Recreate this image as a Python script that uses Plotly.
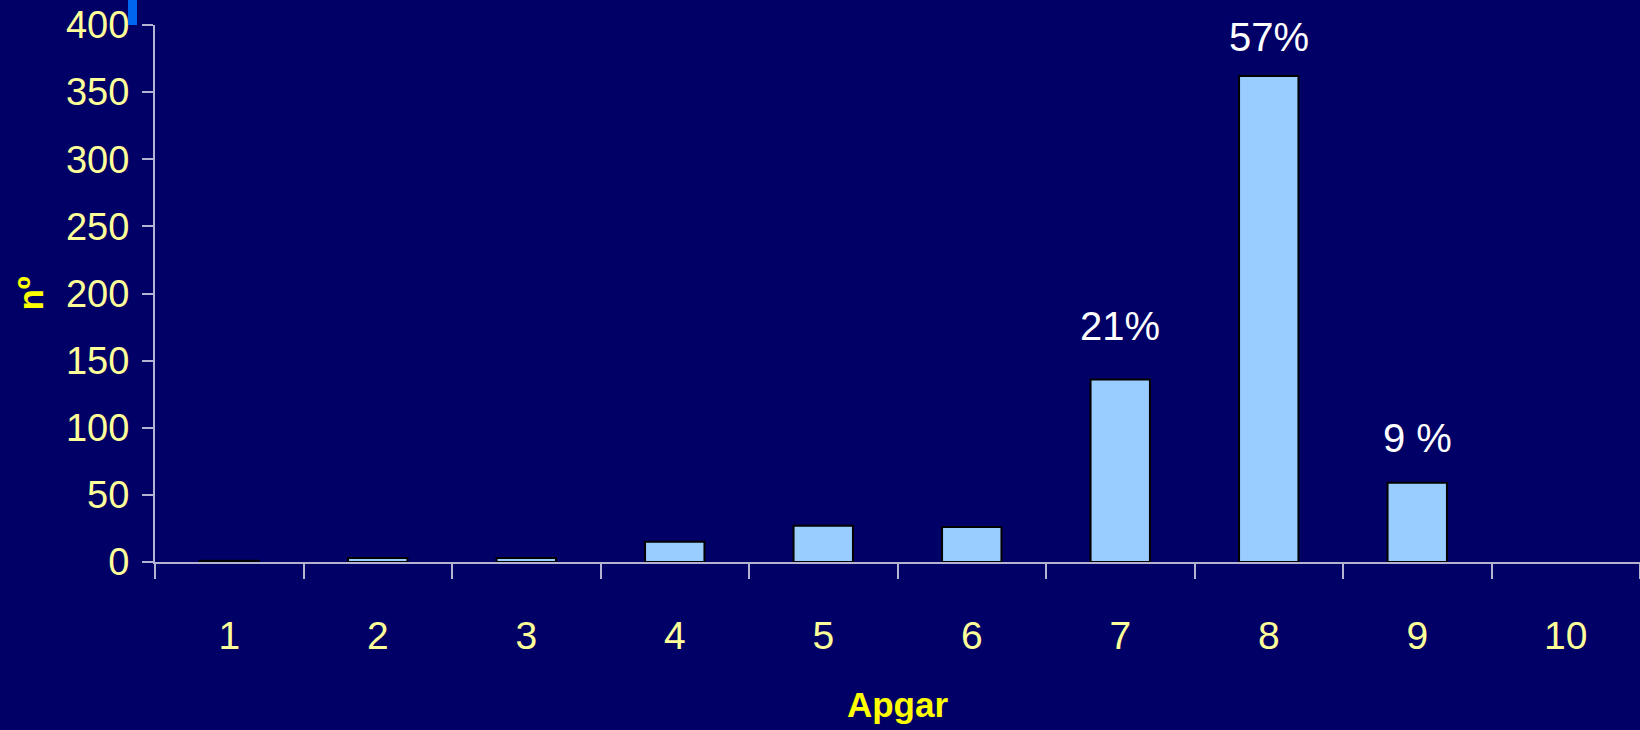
import plotly.graph_objects as go

# Apgar score distribution
categories = ["1", "2", "3", "4", "5", "6", "7", "8", "9", "10"]
counts = [1, 3, 3, 15, 27, 26, 136, 362, 59, 0]

# Percentage callouts above the main bars
pct_labels = {"7": "21%", "8": "57%", "9": "9 %"}
pct_offsets = {"7": 53, "8": 39, "9": 45}

y_ticks = [0, 50, 100, 150, 200, 250, 300, 350, 400]

BG = "#000066"
TICK_COLOR = "#FFFF99"
TITLE_COLOR = "#FFFF00"
AXIS_COLOR = "#B4B4D2"
FONT = "Liberation Sans, Arial, sans-serif"

fig = go.Figure()
fig.add_trace(go.Bar(
    x=categories,
    y=counts,
    width=0.4,
    marker=dict(
        color="#99CCFF",
        line=dict(color="#000000", width=[2 if c > 0 else 0 for c in counts]),
    ),
    hoverinfo="x+y",
))

for cat, text in pct_labels.items():
    idx = categories.index(cat)
    fig.add_annotation(
        x=idx, y=counts[idx],
        text=text, showarrow=False,
        yanchor="middle", yshift=pct_offsets[cat],
        font=dict(family=FONT, size=40, color="#FFFFFF"),
    )

# small blue marker in the top-left corner
fig.add_shape(
    type="rect", xref="paper", yref="paper",
    x0=-27 / 1485, x1=-18 / 1485, y0=1.0, y1=1.0 + 25 / 537,
    fillcolor="#0066EE", line=dict(width=0), layer="above",
)

fig.update_layout(
    width=1640, height=730,
    margin=dict(l=155, r=0, t=25, b=168),
    paper_bgcolor=BG, plot_bgcolor=BG,
    showlegend=False,
    font=dict(family=FONT),
    bargap=0.6,
)

fig.update_xaxes(
    type="category",
    range=[-0.5, 9.5],
    tickson="boundaries",
    ticks="outside", ticklen=15, tickwidth=2, tickcolor=AXIS_COLOR,
    showline=True, linecolor=AXIS_COLOR, linewidth=2,
    showgrid=False, zeroline=False,
    tickfont=dict(family=FONT, size=39, color=TICK_COLOR),
    ticklabelstandoff=38,
    title=dict(text="<b>Apgar</b>", font=dict(family=FONT, size=35, color=TITLE_COLOR), standoff=37),
)

fig.update_yaxes(
    range=[0, 400],
    tickvals=y_ticks,
    ticks="outside", ticklen=11, tickwidth=2, tickcolor=AXIS_COLOR,
    showline=True, linecolor=AXIS_COLOR, linewidth=2,
    showgrid=False, zeroline=False,
    tickfont=dict(family=FONT, size=38, color=TICK_COLOR),
    ticklabelstandoff=5,
    title=dict(text="<b>nº</b>", font=dict(family=FONT, size=35, color=TITLE_COLOR), standoff=12),
)

fig.write_html("out.html")
